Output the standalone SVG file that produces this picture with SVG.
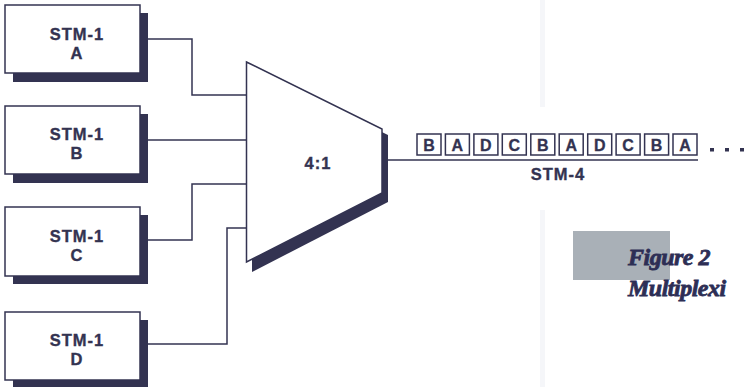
<svg xmlns="http://www.w3.org/2000/svg" width="744" height="387" viewBox="0 0 744 387">
<style>
.sh{fill:#333351}
.bx{fill:#fff;stroke:#333351;stroke-width:1.5}
.t{font-family:"Liberation Sans",Arial,sans-serif;font-weight:bold;font-size:16.5px;fill:#333351;stroke:#333351;stroke-width:0.35;text-anchor:middle;letter-spacing:1px}
.w{fill:none;stroke:#333351;stroke-width:1.5}
.fb{fill:#fff;stroke:#333351;stroke-width:1.5}
.fl{font-family:"Liberation Sans",Arial,sans-serif;font-weight:bold;font-size:16px;fill:#333351;stroke:#333351;stroke-width:0.3;text-anchor:middle}
.fig{font-family:"Liberation Serif","Times New Roman",serif;font-weight:bold;font-style:italic;font-size:24px;fill:#2d2e55;stroke:#2d2e55;stroke-width:0.8;letter-spacing:-0.5px}
</style>
<rect width="744" height="387" fill="#fff"/>
<rect x="540" y="0" width="5" height="107" fill="#f5f6f9"/>
<rect x="540" y="210" width="5" height="177" fill="#f5f6f9"/>
<rect x="573" y="231" width="97" height="49" fill="#a9b0b7"/>
<text class="fig" x="628" y="265">Figure 2</text>
<text class="fig" x="628" y="296">Multiplexi</text>

<g id="connectors">
<polyline class="w" points="148,39 192,39 192,95 247,95"/>
<polyline class="w" points="148,140 247,140"/>
<polyline class="w" points="148,240 192,240 192,184 247,184"/>
<polyline class="w" points="148,344 227,344 227,228 247,228"/>
<line class="w" x1="388" y1="160" x2="698" y2="160"/>
</g>

<g id="nodeA">
<rect class="sh" x="13" y="13" width="135" height="69"/>
<rect class="bx" x="5" y="5" width="135" height="68"/>
<text class="t" x="77" y="40">STM-1</text>
<text class="t" x="77" y="59">A</text>
</g>
<g id="nodeB">
<rect class="sh" x="13" y="114" width="135" height="69"/>
<rect class="bx" x="5" y="106" width="135" height="68"/>
<text class="t" x="77" y="140">STM-1</text>
<text class="t" x="77" y="159">B</text>
</g>
<g id="nodeC">
<rect class="sh" x="13" y="215" width="135" height="69"/>
<rect class="bx" x="5" y="207" width="135" height="69"/>
<text class="t" x="77" y="242">STM-1</text>
<text class="t" x="77" y="261">C</text>
</g>
<g id="nodeD">
<rect class="sh" x="13" y="320" width="135" height="67"/>
<rect class="bx" x="5" y="312" width="135" height="68"/>
<text class="t" x="77" y="346">STM-1</text>
<text class="t" x="77" y="365">D</text>
</g>

<g id="mux">
<polygon class="sh" points="252,69 388,135 388,202 252,272"/>
<polygon class="bx" points="246.5,62 382,129 382,193 246.5,262"/>
<text class="t" x="318" y="169">4:1</text>
</g>

<g id="frames">
<rect class="fb" x="417" y="134" width="24" height="21"/>
<text class="fl" x="429" y="150.5">B</text>
<rect class="fb" x="445.4" y="134" width="24" height="21"/>
<text class="fl" x="457.4" y="150.5">A</text>
<rect class="fb" x="473.9" y="134" width="24" height="21"/>
<text class="fl" x="485.9" y="150.5">D</text>
<rect class="fb" x="502.3" y="134" width="24" height="21"/>
<text class="fl" x="514.3" y="150.5">C</text>
<rect class="fb" x="530.8" y="134" width="24" height="21"/>
<text class="fl" x="542.8" y="150.5">B</text>
<rect class="fb" x="559.2" y="134" width="24" height="21"/>
<text class="fl" x="571.2" y="150.5">A</text>
<rect class="fb" x="587.7" y="134" width="24" height="21"/>
<text class="fl" x="599.7" y="150.5">D</text>
<rect class="fb" x="616.1" y="134" width="24" height="21"/>
<text class="fl" x="628.1" y="150.5">C</text>
<rect class="fb" x="644.6" y="134" width="24" height="21"/>
<text class="fl" x="656.6" y="150.5">B</text>
<rect class="fb" x="673" y="134" width="24" height="21"/>
<text class="fl" x="685" y="150.5">A</text>
<rect class="sh" x="710" y="148" width="4" height="3.5"/>
<rect class="sh" x="725" y="148" width="4" height="3.5"/>
<rect class="sh" x="740" y="148" width="4" height="3.5"/>
<text class="t" x="558" y="180">STM-4</text>
</g>
</svg>
